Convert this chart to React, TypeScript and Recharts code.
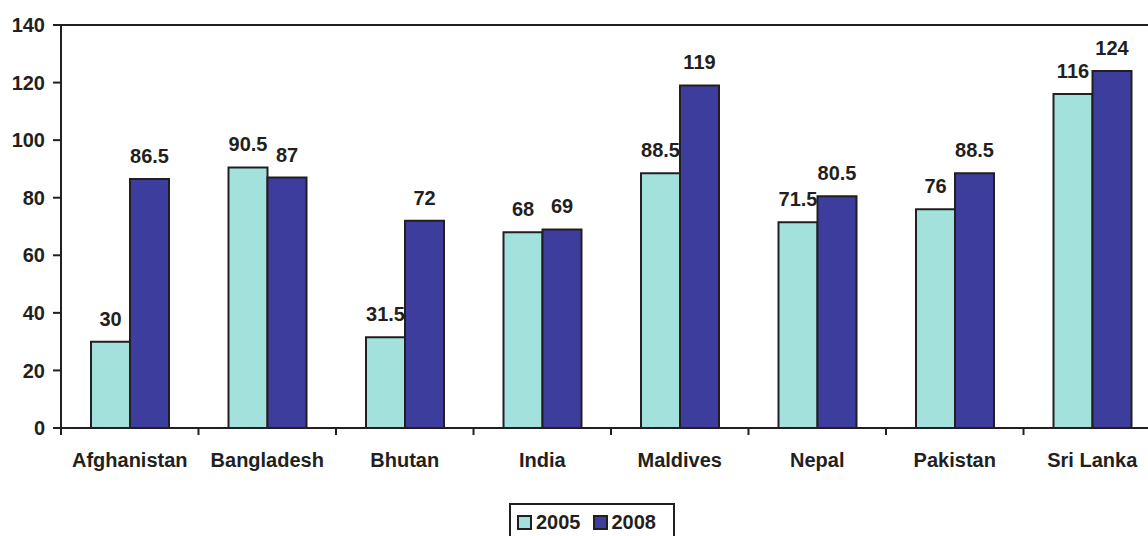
import React from 'react';
import { BarChart, Bar, XAxis, YAxis, ReferenceLine, LabelList } from 'recharts';

const categories = ['Afghanistan', 'Bangladesh', 'Bhutan', 'India', 'Maldives', 'Nepal', 'Pakistan', 'Sri Lanka'];
const values2005 = [30, 90.5, 31.5, 68, 88.5, 71.5, 76, 116];
const values2008 = [86.5, 87, 72, 69, 119, 80.5, 88.5, 124];
const yTicks = [0, 20, 40, 60, 80, 100, 120, 140];
const seriesNames = ['2005', '2008'];

const COLOR_2005 = '#a2e1dc';
const COLOR_2008 = '#3d3d9d';
const INK = '#231f20';
const FONT = '"Liberation Sans", Arial, Helvetica, sans-serif';

const CHART_W = 1170;
const CHART_H = 536;
const MARGIN = { top: 25, right: 9, left: 0, bottom: 48 };
const Y_AXIS_W = 61;
const PLOT_W = CHART_W - MARGIN.left - MARGIN.right - Y_AXIS_W;
const HALF_BAND = PLOT_W / categories.length / 2;

const data = categories.map((c, i) => ({ name: c, v2005: values2005[i], v2008: values2008[i] }));

const XTick = (props: any) => {
  const { x, y, payload, index } = props;
  const last = index === categories.length - 1;
  return (
    <g>
      <line x1={x - HALF_BAND} x2={x - HALF_BAND} y1={y} y2={y + 7} stroke={INK} strokeWidth={2} />
      {last && <line x1={x + HALF_BAND} x2={x + HALF_BAND} y1={y} y2={y + 7} stroke={INK} strokeWidth={2} />}
      <text x={x} y={y + 39} textAnchor="middle" fontFamily={FONT} fontWeight="bold" fontSize={20} fill={INK}>
        {payload.value}
      </text>
    </g>
  );
};

const Legend = () => (
  <div
    style={{
      position: 'absolute',
      left: 509,
      top: 503,
      width: 162,
      height: 40,
      border: `2px solid ${INK}`,
      boxSizing: 'content-box',
      fontFamily: FONT,
      fontWeight: 'bold',
      fontSize: 20,
      color: INK,
      display: 'flex',
      alignItems: 'flex-start',
    }}
  >
    {seriesNames.map((n, i) => (
      <div key={n} style={{ display: 'flex', alignItems: 'center', marginLeft: i === 0 ? 6 : 12, marginTop: 7 }}>
        <div
          style={{
            width: 11,
            height: 11,
            background: i === 0 ? COLOR_2005 : COLOR_2008,
            border: `2px solid ${INK}`,
            marginRight: 4,
          }}
        />
        <span style={{ lineHeight: '20px' }}>{n}</span>
      </div>
    ))}
  </div>
);

export default function App() {
  return (
    <div style={{ position: 'absolute', left: 0, top: 0, width: 1148, height: 536, overflow: 'hidden', background: '#fff' }}>
      <BarChart width={CHART_W} height={CHART_H} data={data} margin={MARGIN} barGap={0} barCategoryGap={30}>
        <XAxis
          dataKey="name"
          axisLine={{ stroke: INK, strokeWidth: 2 }}
          tickLine={false}
          tickSize={0}
          tickMargin={0}
          height={60}
          interval={0}
          tick={<XTick />}
        />
        <YAxis
          width={Y_AXIS_W}
          domain={[0, 140]}
          ticks={yTicks}
          interval={0}
          axisLine={{ stroke: INK, strokeWidth: 2 }}
          tickLine={{ stroke: INK, strokeWidth: 2 }}
          tickSize={8}
          tickMargin={8}
          tick={{ fontFamily: FONT, fontWeight: 'bold', fontSize: 20, fill: INK }}
        />
        <ReferenceLine y={140} stroke={INK} strokeWidth={2} />
        <Bar dataKey="v2005" name="2005" fill={COLOR_2005} stroke={INK} strokeWidth={2} isAnimationActive={false}>
          <LabelList dataKey="v2005" position="top" offset={16} fontFamily={FONT} fontWeight="bold" fontSize={20} fill={INK} />
        </Bar>
        <Bar dataKey="v2008" name="2008" fill={COLOR_2008} stroke={INK} strokeWidth={2} isAnimationActive={false}>
          <LabelList dataKey="v2008" position="top" offset={16} fontFamily={FONT} fontWeight="bold" fontSize={20} fill={INK} />
        </Bar>
      </BarChart>
      <Legend />
    </div>
  );
}
